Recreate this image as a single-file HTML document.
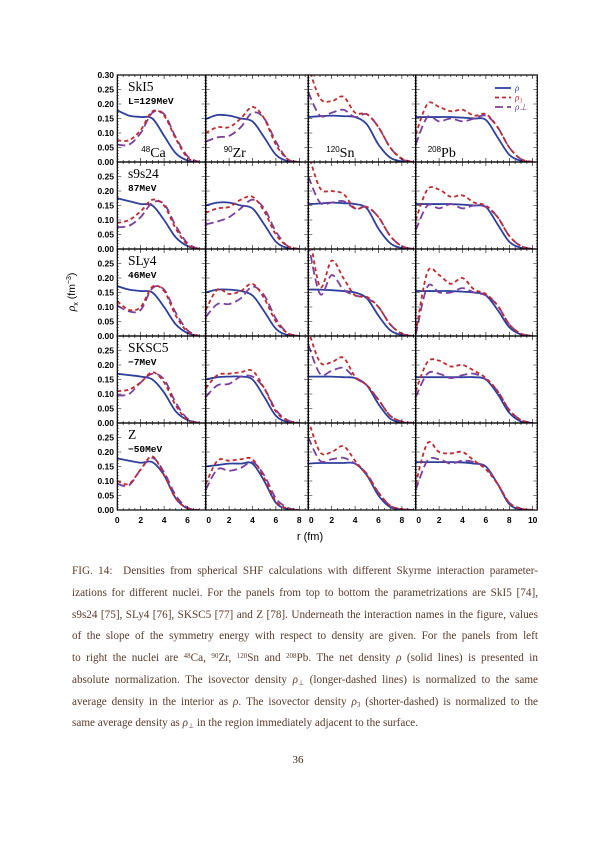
<!DOCTYPE html>
<html><head><meta charset="utf-8"><style>
body{margin:0;background:#fff;}
#page{position:relative;width:596px;height:842px;overflow:hidden;background:#fff;}
#cap{position:absolute;left:72px;top:561px;width:466px;font-family:"Liberation Serif",serif;font-size:11.2px;line-height:21.75px;color:#5a3a2a;}
#cap div{text-align:justify;text-align-last:justify;white-space:nowrap;height:21.75px;}
#cap div.last{text-align-last:left;}
#pn{position:absolute;left:0;width:596px;top:754px;text-align:center;font-family:"Liberation Serif",serif;font-size:11px;color:#3a2a20;}
.sp{font-size:7px;vertical-align:baseline;position:relative;top:-0.45em;}
.sb{font-size:7px;vertical-align:baseline;position:relative;top:0.3em;}
</style></head><body>
<div id="page">
<svg id="chart" width="596" height="560" style="position:absolute;left:0;top:0"></svg>
<div id="cap">
<div style="white-space:normal">FIG. 14: &nbsp;Densities from spherical SHF calculations with different Skyrme interaction parameter-</div>
<div style="white-space:normal">izations for different nuclei. For the panels from top to bottom the parametrizations are SkI5 [74],</div>
<div style="white-space:normal">s9s24 [75], SLy4 [76], SKSC5 [77] and Z [78]. Underneath the interaction names in the figure, values</div>
<div style="white-space:normal">of the slope of the symmetry energy with respect to density are given. For the panels from left</div>
<div style="white-space:normal">to right the nuclei are <span class="sp">48</span>Ca, <span class="sp">90</span>Zr, <span class="sp">120</span>Sn and <span class="sp">208</span>Pb. The net density <i>ρ</i> (solid lines) is presented in</div>
<div style="white-space:normal">absolute normalization. The isovector density <i>ρ</i><span class="sb">⊥</span> (longer-dashed lines) is normalized to the same</div>
<div style="white-space:normal">average density in the interior as <i>ρ</i>. The isovector density <i>ρ</i><span class="sb">3</span> (shorter-dashed) is normalized to the</div>
<div class="last">same average density as <i>ρ</i><span class="sb">⊥</span> in the region immediately adjacent to the surface.</div>
</div>
<div id="pn">36</div>
</div>
<script>
const models=["SkI5","s9s24","SLy4","SKSC5","Z"];
const slopes=["L=129MeV","87MeV","46MeV","\u22127MeV","\u221250MeV"];
const nuclei=[["48","Ca"],["90","Zr"],["120","Sn"],["208","Pb"]];
const xMaxes=[7.5,8.8,9.2,10.4];
const xTickLabels=[[0,2,4,6],[0,2,4,6,8],[0,2,4,6,8],[0,2,4,6,8,10]];
const yTickLabels=[0,0.05,0.10,0.15,0.20,0.25,0.30];
// densities sampled at r = 0,1,2,... fm  [row][col]
const rhoNet=[
[[0.178,0.16,0.155,0.15,0.09,0.03,0.005,0],[0.148,0.162,0.16,0.15,0.14,0.085,0.025,0.003,0],[0.155,0.158,0.16,0.158,0.155,0.13,0.06,0.015,0.002,0],[0.155,0.155,0.155,0.155,0.153,0.15,0.145,0.085,0.025,0.004,0]],
[[0.175,0.165,0.155,0.15,0.10,0.04,0.01,0],[0.15,0.16,0.16,0.15,0.14,0.085,0.025,0.003,0],[0.155,0.157,0.16,0.158,0.155,0.14,0.07,0.02,0.003,0],[0.155,0.155,0.155,0.155,0.153,0.15,0.145,0.085,0.025,0.004,0]],
[[0.172,0.16,0.155,0.15,0.10,0.04,0.01,0],[0.15,0.16,0.16,0.155,0.14,0.085,0.025,0.003,0],[0.16,0.16,0.158,0.155,0.15,0.13,0.07,0.02,0.003,0],[0.155,0.155,0.155,0.155,0.153,0.15,0.14,0.09,0.03,0.005,0]],
[[0.17,0.165,0.16,0.15,0.105,0.04,0.01,0],[0.15,0.158,0.16,0.16,0.15,0.09,0.025,0.003,0],[0.16,0.16,0.16,0.158,0.155,0.13,0.065,0.015,0.002,0],[0.158,0.158,0.158,0.158,0.158,0.158,0.15,0.1,0.035,0.005,0]],
[[0.178,0.17,0.163,0.165,0.12,0.04,0.005,0],[0.15,0.155,0.16,0.16,0.16,0.1,0.025,0.003,0],[0.16,0.162,0.162,0.162,0.16,0.12,0.05,0.01,0.002,0],[0.165,0.165,0.165,0.165,0.164,0.16,0.15,0.09,0.02,0.003,0]]];
const rho3=[
[[0.075,0.075,0.11,0.175,0.16,0.08,0.015,0],[0.10,0.12,0.12,0.15,0.19,0.15,0.06,0.01,0],[0.33,0.22,0.21,0.225,0.17,0.165,0.12,0.05,0.012,0],[0.095,0.2,0.19,0.175,0.18,0.16,0.165,0.12,0.05,0.01,0]],
[[0.09,0.10,0.13,0.17,0.15,0.07,0.015,0],[0.125,0.14,0.145,0.17,0.18,0.13,0.05,0.01,0],[0.33,0.21,0.2,0.19,0.14,0.145,0.11,0.045,0.01,0],[0.10,0.205,0.205,0.18,0.185,0.16,0.15,0.11,0.045,0.01,0]],
[[0.12,0.09,0.10,0.17,0.155,0.07,0.015,0],[0.09,0.16,0.145,0.155,0.18,0.13,0.05,0.01,0],[0.38,0.17,0.26,0.2,0.14,0.135,0.1,0.04,0.008,0],[0.01,0.22,0.21,0.18,0.2,0.16,0.145,0.105,0.04,0.008,0]],
[[0.11,0.115,0.14,0.175,0.14,0.06,0.01,0],[0.12,0.165,0.17,0.175,0.18,0.12,0.04,0.008,0],[0.32,0.21,0.21,0.225,0.16,0.13,0.08,0.025,0.005,0],[0.11,0.21,0.215,0.195,0.2,0.18,0.155,0.11,0.045,0.01,0]],
[[0.10,0.09,0.14,0.185,0.12,0.04,0.005,0],[0.09,0.17,0.17,0.175,0.175,0.11,0.03,0.005,0],[0.31,0.2,0.2,0.22,0.17,0.12,0.06,0.015,0.003,0],[0.09,0.23,0.2,0.195,0.2,0.17,0.14,0.09,0.025,0.005,0]]];
const rhoPerp=[
[[0.06,0.06,0.10,0.17,0.165,0.085,0.02,0],[0.07,0.085,0.09,0.12,0.17,0.15,0.07,0.01,0],[0.24,0.16,0.17,0.18,0.155,0.165,0.12,0.05,0.01,0],[0.06,0.155,0.14,0.15,0.14,0.15,0.16,0.12,0.05,0.01,0]],
[[0.075,0.08,0.11,0.16,0.155,0.08,0.02,0],[0.085,0.095,0.11,0.14,0.17,0.14,0.06,0.01,0],[0.25,0.16,0.16,0.165,0.14,0.145,0.11,0.045,0.01,0],[0.065,0.15,0.14,0.155,0.14,0.15,0.145,0.11,0.045,0.01,0]],
[[0.105,0.085,0.09,0.165,0.16,0.08,0.02,0],[0.065,0.11,0.11,0.13,0.17,0.14,0.06,0.01,0],[0.32,0.145,0.21,0.16,0.14,0.13,0.1,0.04,0.008,0],[0.005,0.17,0.15,0.15,0.165,0.15,0.14,0.105,0.04,0.008,0]],
[[0.095,0.10,0.14,0.17,0.15,0.07,0.015,0],[0.09,0.13,0.135,0.16,0.16,0.12,0.045,0.01,0],[0.27,0.17,0.18,0.19,0.155,0.13,0.08,0.025,0.005,0],[0.09,0.17,0.17,0.155,0.165,0.17,0.15,0.11,0.045,0.01,0]],
[[0.09,0.085,0.14,0.18,0.13,0.05,0.008,0],[0.07,0.14,0.135,0.145,0.165,0.12,0.04,0.008,0],[0.25,0.17,0.175,0.18,0.16,0.125,0.06,0.015,0.003,0],[0.07,0.17,0.175,0.16,0.17,0.165,0.145,0.09,0.025,0.005,0]]];

const NS="http://www.w3.org/2000/svg";
const svg=document.getElementById('chart');
const colX=[117.3,205.7,308.3,415.7,537.3];
const top0=75,rowH=87,pxPerFm=11.7,yMax=0.30;
function mk(t,a,p){const e=document.createElementNS(NS,t);for(const k in a)e.setAttribute(k,a[k]);(p||svg).appendChild(e);return e;}
function sx(c,r){return colX[c]+r*pxPerFm;}
function sy(row,v){return top0+rowH*(row+1)-v/yMax*rowH;}
function pathFrom(pts){let d="M"+pts[0][0].toFixed(2)+","+pts[0][1].toFixed(2);
 for(let i=0;i<pts.length-1;i++){const p0=pts[Math.max(i-1,0)],p1=pts[i],p2=pts[i+1],p3=pts[Math.min(i+2,pts.length-1)];
  const c1=[p1[0]+(p2[0]-p0[0])/6,p1[1]+(p2[1]-p0[1])/6],c2=[p2[0]-(p3[0]-p1[0])/6,p2[1]-(p3[1]-p1[1])/6];
  d+="C"+c1.map(v=>v.toFixed(2))+" "+c2.map(v=>v.toFixed(2))+" "+p2[0].toFixed(2)+","+p2[1].toFixed(2);}
 return d;}
const defs=mk('defs',{});
for(let row=0;row<5;row++){for(let c=0;c<4;c++){
 const x0=colX[c],x1=colX[c+1],y0=top0+rowH*row,y1=y0+rowH;
 const g=mk('g',{});
 
 
 const cp=mk('clipPath',{id:'cp'+row+c},defs);mk('rect',{x:x0,y:y0,width:x1-x0,height:y1-y0},cp);
 const cg=mk('g',{'clip-path':'url(#cp'+row+c+')'},g);
 const series=[[rhoNet,'#2e3f9c','',1.8,'rho-line'],[rhoPerp,'#7b3f9e','8,4',1.8,'rho-perp-line'],[rho3,'#c02a2e','4,3',1.8,'rho3-line']];
 series.forEach(s=>{const arr=s[0][row][c];const pts=arr.map((v,i)=>[sx(c,i),sy(row,v)]);
  const p=mk('path',{d:pathFrom(pts),fill:'none',stroke:s[1],'stroke-width':s[3],'stroke-dasharray':s[2]},cg);
  
  });
 mk('rect',{x:x0,y:y0,width:x1-x0,height:y1-y0,fill:'none',stroke:'#000','stroke-width':1.2},g);
 for(let r=0;r<=xMaxes[c]+1e-6;r+=0.5){const X=sx(c,r);const major=Math.abs(r%2)<1e-6;const L=major?4:2;
  mk('line',{x1:X,x2:X,y1:y1,y2:y1-L,stroke:'#000','stroke-width':0.6},g);mk('line',{x1:X,x2:X,y1:y0,y2:y0+L,stroke:'#000','stroke-width':0.6},g);}
 for(let v=0;v<=0.3001;v+=0.01){const Y=sy(row,v);const major=Math.abs(v/0.05-Math.round(v/0.05))<1e-6;const L=major?4:1.5;
  mk('line',{x1:x0,x2:x0+L,y1:Y,y2:Y,stroke:'#000','stroke-width':0.5},g);mk('line',{x1:x1,x2:x1-L,y1:Y,y2:Y,stroke:'#000','stroke-width':0.5},g);}
 if(row===0){const t=mk('text',{x:x0+(c===0?24:c===3?12:18),y:y1-5,'font-family':'Liberation Serif, serif','font-size':14},g);
  
  const s1=mk('tspan',{'font-size':8,'font-family':'Liberation Sans, sans-serif',dy:-5},t);s1.textContent=nuclei[c][0];
  const s2=mk('tspan',{dy:5},t);s2.textContent=nuclei[c][1];}
}
 const labs=row===0?yTickLabels:yTickLabels.slice(0,6);
 labs.forEach(v=>{const t=mk('text',{x:114,y:sy(row,v)+3,'text-anchor':'end','font-family':'Liberation Sans, sans-serif','font-size':8.5,'font-weight':'bold'});
  t.textContent=v.toFixed(2);});
 const m=mk('text',{x:128,y:top0+rowH*row+16,'font-family':'Liberation Serif, serif','font-size':13.5});
 m.textContent=models[row];
 const l=mk('text',{x:128,y:top0+rowH*row+29,'font-family':'Liberation Mono, monospace','font-size':9.5,'font-weight':'bold'});
 l.textContent=slopes[row];
}
for(let c=0;c<4;c++){xTickLabels[c].forEach(r=>{const t=mk('text',{x:sx(c,r)+(c>0&&r===0?3:0),y:523,'text-anchor':'middle','font-family':'Liberation Sans, sans-serif','font-size':8.5,'font-weight':'bold'});
 t.textContent=r;});}
const xt=mk('text',{x:310,y:540,'text-anchor':'middle','font-family':'Liberation Sans, sans-serif','font-size':11});
xt.textContent='r  (fm)';
const yt=mk('text',{x:0,y:0,transform:'translate(75,292) rotate(-90)','text-anchor':'middle','font-family':'Liberation Sans, sans-serif','font-size':10.5});

yt.innerHTML='<tspan font-style="italic" font-family="Liberation Serif, serif" font-size="12">ρ</tspan><tspan font-size="7" dy="3">x</tspan><tspan dy="-3">  (fm</tspan><tspan font-size="7" dy="-4">−3</tspan><tspan dy="4">)</tspan>';
const legItems=[['ρ','#2e3f9c',''],['ρ₃','#c02a2e','4,3'],['ρ⊥','#7b3f9e','8,4']];
legItems.forEach((it,i)=>{const y=88+i*9.5;const lg=mk('g',{});
 
 mk('line',{x1:495,x2:511,y1:y,y2:y,stroke:it[1],'stroke-width':1.8,'stroke-dasharray':it[2]},lg);
 const t=mk('text',{x:515,y:y+3,'font-family':'Liberation Serif, serif','font-style':'italic','font-size':9,fill:it[1]},lg);t.textContent=it[0];});
</script>
</body></html>
